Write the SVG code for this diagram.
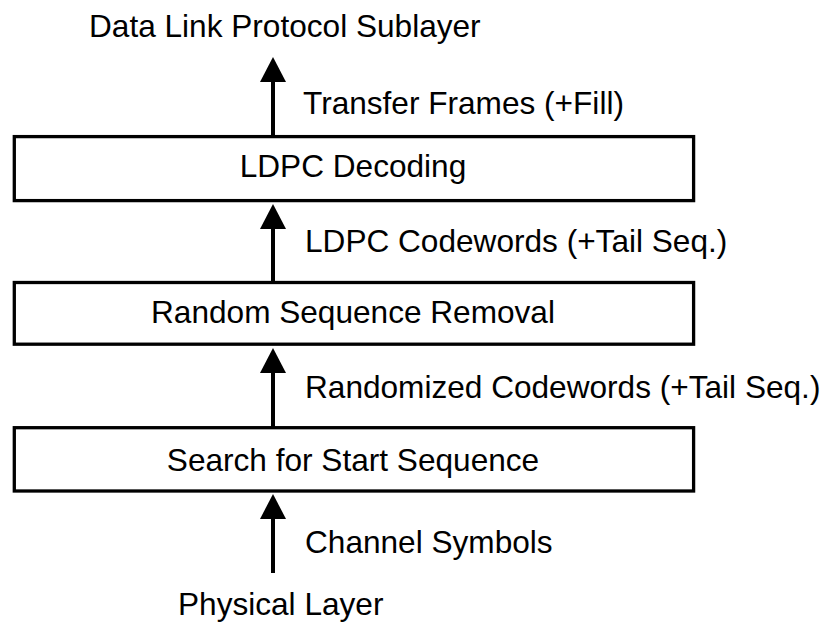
<svg xmlns="http://www.w3.org/2000/svg" width="830" height="624" viewBox="0 0 830 624">
<defs>
<style>
text{font-family:"Liberation Sans",Arial,sans-serif;font-size:31.6px;fill:#000}
.box{fill:#fff;stroke:#000;stroke-width:3.3}
.ln{stroke:#000;stroke-width:4;fill:none}
.hd{fill:#000}
.c{text-anchor:middle}
</style>
</defs>
<rect width="830" height="624" fill="#fff"/>
<g id="connectors">
<line class="ln" x1="273" y1="80" x2="273" y2="136"/>
<polygon class="hd" points="273,57 286,82 260,82"/>
<line class="ln" x1="273" y1="226" x2="273" y2="282"/>
<polygon class="hd" points="273,204 286,229 260,229"/>
<line class="ln" x1="273" y1="371" x2="273" y2="427"/>
<polygon class="hd" points="273,348 286,373 260,373"/>
<line class="ln" x1="273" y1="516" x2="273" y2="573"/>
<polygon class="hd" points="273,494 286,519 260,519"/>
<text x="303" y="114">Transfer Frames (+Fill)</text>
<text x="305" y="252">LDPC Codewords (+Tail Seq.)</text>
<text x="305" y="398">Randomized Codewords (+Tail Seq.)</text>
<text x="305" y="553">Channel Symbols</text>
</g>
<g id="top-label"><text x="89" y="37">Data Link Protocol Sublayer</text></g>
<g id="ldpc-decoding">
<rect class="box" x="14.3" y="136.6" width="679.3" height="64"/>
<text class="c" x="353" y="177">LDPC Decoding</text>
</g>
<g id="random-sequence-removal">
<rect class="box" x="14.3" y="282.5" width="679.3" height="61.7"/>
<text class="c" x="353" y="323">Random Sequence Removal</text>
</g>
<g id="search-start-sequence">
<rect class="box" x="14.3" y="427.7" width="679.3" height="63.3"/>
<text class="c" x="353" y="471">Search for Start Sequence</text>
</g>
<g id="bottom-label"><text x="178" y="615">Physical Layer</text></g>
</svg>
